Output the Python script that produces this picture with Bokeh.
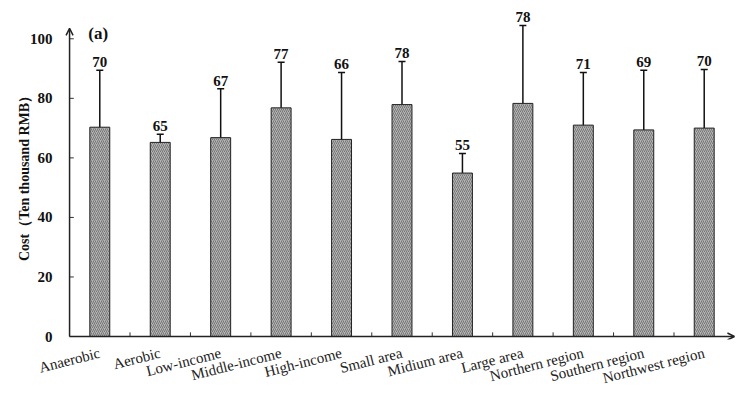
from bokeh.plotting import figure
from bokeh.models import ColumnDataSource, FactorRange, Range1d, Whisker, TeeHead, Arrow, OpenHead, Label, FixedTicker
from bokeh.core.properties import value
from bokeh.embed import file_html
from bokeh.resources import INLINE

categories = ["Anaerobic", "Aerobic", "Low-income", "Middle-income", "High-income",
              "Small area", "Midium area", "Large area", "Northern region",
              "Southern region", "Northwest region"]
means = [70.3, 65.2, 66.8, 76.8, 66.2, 77.9, 54.9, 78.3, 71.0, 69.4, 70.0]
err_upper = [89.4, 67.9, 83.2, 92.1, 88.7, 92.4, 61.5, 104.5, 88.7, 89.4, 89.7]
err_lower = [50.4, 61.5, 49.4, 61.2, 43.5, 62.9, 47.8, 46.7, 52.4, 48.4, 49.7]
labels = [f"{v:.0f}" for v in means]
y_ticks = [0, 20, 40, 60, 80, 100]

SERIF = "Liberation Serif"
INK = "#222222"

src = ColumnDataSource(dict(x=categories, top=means, upper=err_upper, lower=err_lower, label=labels))

p = figure(width=750, height=396,
           x_range=FactorRange(*categories, range_padding=0.15, range_padding_units="absolute",
                               factor_padding=0),
           y_range=Range1d(-1, 109.5), output_backend="svg", toolbar_location=None,
           min_border_left=60, min_border_right=7, min_border_top=10, min_border_bottom=57)
p.outline_line_color = None
p.grid.grid_line_color = None
p.background_fill_color = "white"

p.vbar(x="x", top="top", width=0.33, source=src, fill_color="#b4b4b4",
       hatch_pattern="/", hatch_color="#5a5a5a", hatch_scale=4, hatch_weight=0.7,
       line_color=INK, line_width=1)

w = Whisker(base="x", upper="upper", lower="lower", source=src, line_color="#111111", line_width=1.5,
            upper_head=TeeHead(size=7, line_color="#111111", line_width=1.5),
            lower_head=TeeHead(size=7, line_color="#111111", line_width=1.5))
p.add_layout(w)

p.text(x="x", y="upper", text="label", source=src, text_align="center", text_baseline="bottom",
       y_offset=-3, text_font=value(SERIF), text_font_style="bold", text_font_size="15px",
       text_color="#111111")

# boundary ticks on the x axis (inside)
bounds = list(range(1, len(categories)))
p.segment(x0=bounds, y0=[0] * len(bounds), x1=bounds, y1=[1.4] * len(bounds),
          line_color="#333333", line_width=1)
# y ticks (inside)
p.segment(x0=[0] * len(y_ticks), y0=y_ticks, x1=[0.07] * len(y_ticks), y1=y_ticks,
          line_color="#333333", line_width=1)

# axis lines with arrows
p.add_layout(Arrow(x_start=0, y_start=0, x_end=len(categories), y_end=0,
                   end=OpenHead(size=7, line_color=INK, line_width=1.5),
                   line_color=INK, line_width=1.5))
p.add_layout(Arrow(x_start=0, y_start=0, x_end=0, y_end=103.5,
                   end=OpenHead(size=7, line_color=INK, line_width=1.5),
                   line_color=INK, line_width=1.5))

p.add_layout(Label(x=0.31, y=101.8, text="(a)", text_font=SERIF, text_font_style="bold",
                   text_font_size="17px", text_baseline="middle", text_align="left",
                   text_color="#111111"))

xa = p.xaxis[0]
xa.axis_line_color = None
xa.major_tick_line_color = None
xa.major_tick_in = 0
xa.major_tick_out = 0
xa.major_label_orientation = 0.25
xa.major_label_standoff = 13
xa.major_label_text_font = SERIF
xa.major_label_text_font_size = "15px"
xa.major_label_text_color = INK

ya = p.yaxis[0]
ya.ticker = FixedTicker(ticks=y_ticks)
ya.axis_line_color = None
ya.major_tick_line_color = None
ya.major_tick_in = 0
ya.major_tick_out = 0
ya.minor_tick_line_color = None
ya.major_label_standoff = 8
ya.major_label_text_font = SERIF
ya.major_label_text_font_style = "bold"
ya.major_label_text_font_size = "15px"
ya.major_label_text_color = "#111111"
ya.axis_label = "Cost（Ten thousand RMB）"
ya.axis_label_text_font = SERIF
ya.axis_label_text_font_style = "bold"
ya.axis_label_text_font_size = "14px"
ya.axis_label_text_color = "#111111"
ya.axis_label_standoff = -5

open("out.html", "w").write(file_html(p, INLINE))
